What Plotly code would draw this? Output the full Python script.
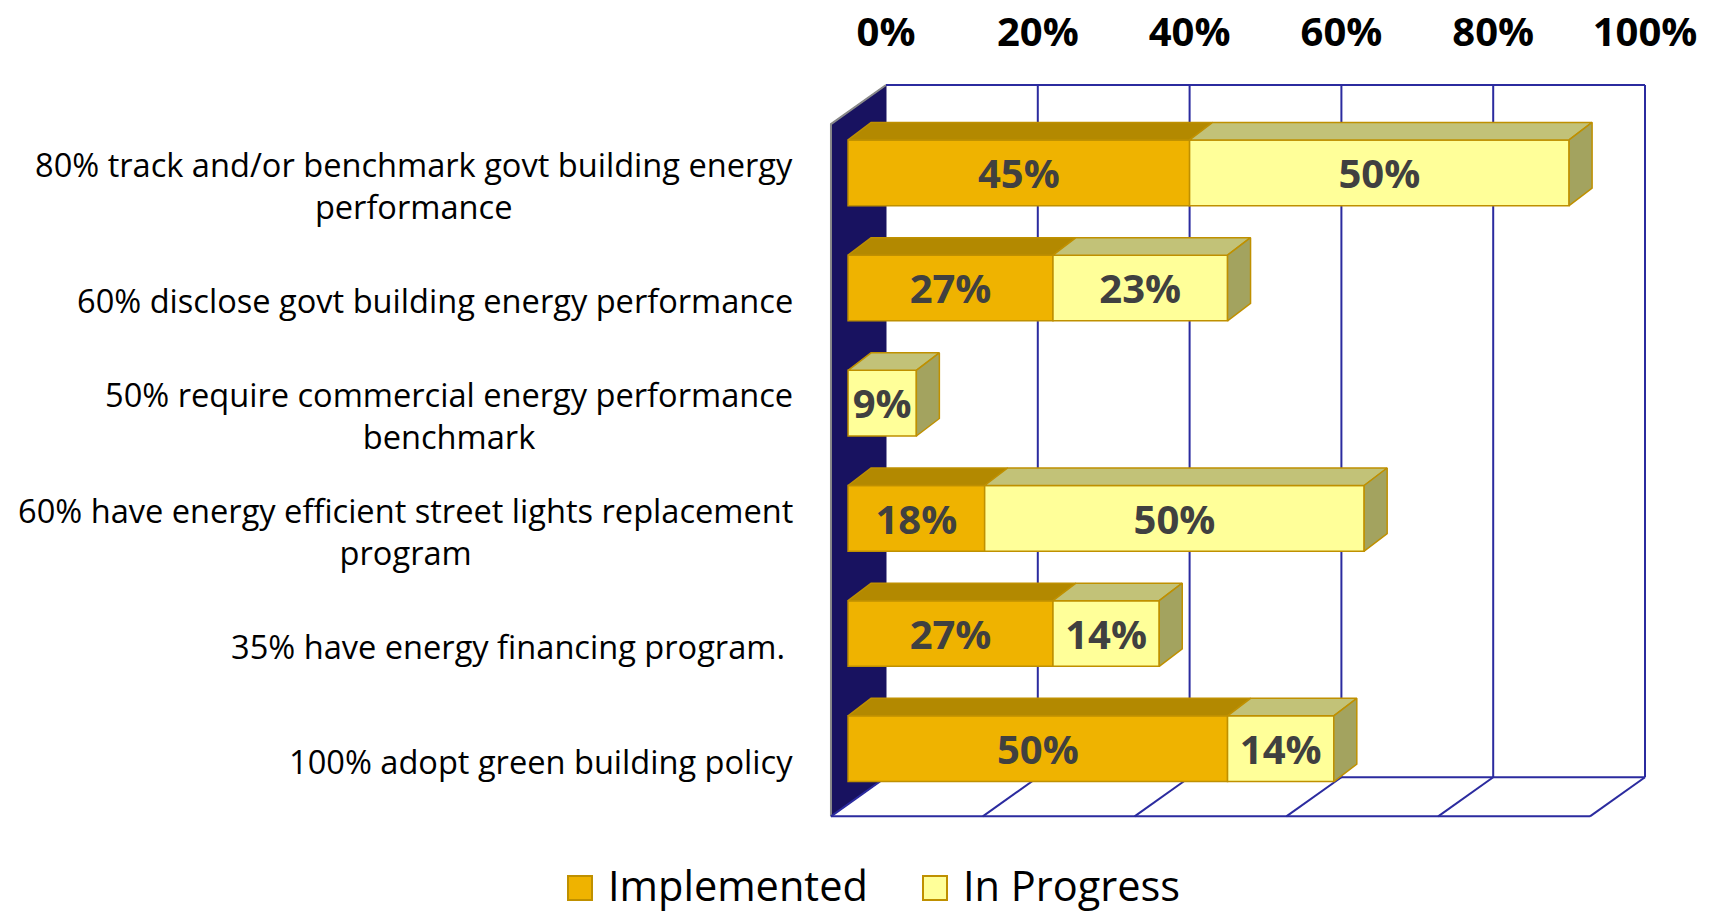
import plotly.graph_objects as go

# ---------------- data ----------------
categories = [
    "80% track and/or benchmark govt building energy<br>performance",
    "60% disclose govt building energy performance",
    "50% require commercial energy performance<br>benchmark",
    "60% have energy efficient street lights replacement<br>program",
    "35% have energy financing program.\u00a0",
    "100% adopt green building policy",
]
implemented = [45, 27, 0, 18, 27, 50]
in_progress = [50, 23, 9, 50, 14, 14]
series_names = ["Implemented", "In Progress"]
tick_vals = [0, 20, 40, 60, 80, 100]
tick_labels = ["0%", "20%", "40%", "60%", "80%", "100%"]

# ---------------- style ----------------
FRONT = ["#EFB300", "#FFFF99"]
TOP = ["#B38900", "#C2C278"]
SIDE = ["#9A7600", "#A3A35F"]
EDGE = "#BF9000"
GRID = "#2B2B9F"
WALL = "#181260"
FONT = "Open Sans"

WIN_W, WIN_H = 1715, 913
OFF = 0                      # page body margin removed in post_script
W, H = WIN_W - OFF, WIN_H - OFF
PLOT_TOP = 80                # window pixel of plot area top
MT = PLOT_TOP - OFF
PX_PER_X = 7.59              # pixels per percent
X0_PIX = 886                 # window pixel of 0% on back wall
ROW_PIX = 115.18             # pixels per category
ROW0_PIX = 172.8             # window pixel of first category centre

xr = [(OFF - X0_PIX) / PX_PER_X, (WIN_W - X0_PIX) / PX_PER_X]
yr = [(WIN_H - ROW0_PIX) / ROW_PIX, (PLOT_TOP - ROW0_PIX) / ROW_PIX]

# 3D geometry (axis units)
BAR_DX = -5.0
BAR_HALF = 0.285
DEP_X, DEP_Y = 3.03, -0.152
WALL_DX, WALL_DY = -7.25, 0.339
WALL_TOP = -0.762
FLOOR_BACK = 5.248

fig = go.Figure()

shapes = []
shapes.append(dict(
    type="path", xref="x", yref="y", layer="below",
    path=f"M0,{WALL_TOP} L{WALL_DX},{WALL_TOP+WALL_DY} L{WALL_DX},{FLOOR_BACK+WALL_DY} L0,{FLOOR_BACK} Z",
    fillcolor=WALL, line=dict(color=WALL, width=1)))
shapes.append(dict(
    type="path", xref="x", yref="y", layer="below",
    path=f"M0,{WALL_TOP} L{WALL_DX},{WALL_TOP+WALL_DY} L{WALL_DX},{FLOOR_BACK+WALL_DY}",
    line=dict(color="#8a8a8a", width=2)))
shapes.append(dict(type="line", xref="x", yref="y", layer="below",
                   x0=tick_vals[0], x1=tick_vals[-1], y0=WALL_TOP, y1=WALL_TOP,
                   line=dict(color=GRID, width=2)))
shapes.append(dict(type="line", xref="x", yref="y", layer="below",
                   x0=tick_vals[0], x1=tick_vals[-1], y0=FLOOR_BACK, y1=FLOOR_BACK,
                   line=dict(color=GRID, width=2)))
shapes.append(dict(type="line", xref="x", yref="y", layer="below",
                   x0=tick_vals[0] + WALL_DX, x1=tick_vals[-1] + WALL_DX,
                   y0=FLOOR_BACK + WALL_DY, y1=FLOOR_BACK + WALL_DY,
                   line=dict(color=GRID, width=2)))
for tv in tick_vals:
    if tv != 0:
        shapes.append(dict(type="line", xref="x", yref="y", layer="below",
                           x0=tv, x1=tv, y0=WALL_TOP, y1=FLOOR_BACK,
                           line=dict(color=GRID, width=2)))
    shapes.append(dict(type="line", xref="x", yref="y", layer="below",
                       x0=tv, x1=tv + WALL_DX, y0=FLOOR_BACK, y1=FLOOR_BACK + WALL_DY,
                       line=dict(color=GRID, width=2)))

series = [implemented, in_progress]
top_x = [[], []]
top_y = [[], []]
side_x = [[], []]
side_y = [[], []]
lab_x, lab_y, lab_t = [], [], []
LAB_DY = 0.045

for s, vals in enumerate(series):
    ys, xs, bases = [], [], []
    for i, v in enumerate(vals):
        if not v:
            continue
        start = sum(series[k][i] for k in range(s))
        b0 = start + BAR_DX
        b1 = start + v + BAR_DX
        ys.append(i)
        xs.append(v)
        bases.append(b0)
        yt = i - BAR_HALF
        yb = i + BAR_HALF
        top_x[s] += [b0, b1, b1 + DEP_X, b0 + DEP_X, b0, None]
        top_y[s] += [yt, yt, yt + DEP_Y, yt + DEP_Y, yt, None]
        total = sum(series[k][i] for k in range(len(series)))
        if start + v == total:
            side_x[s] += [b1, b1 + DEP_X, b1 + DEP_X, b1, b1, None]
            side_y[s] += [yt, yt + DEP_Y, yb + DEP_Y, yb, yt, None]
        lab_x.append(b0 + v / 2)
        lab_y.append(i + LAB_DY)
        lab_t.append(f"{v}%")
    fig.add_trace(go.Bar(
        y=ys, x=xs, base=bases, orientation="h", width=2 * BAR_HALF,
        marker=dict(color=FRONT[s], line=dict(color=EDGE, width=1.5)),
        name=series_names[s], showlegend=False, hoverinfo="skip"))

for s in range(len(series)):
    if top_x[s]:
        fig.add_trace(go.Scatter(x=top_x[s], y=top_y[s], mode="lines", fill="toself",
                                 fillcolor=TOP[s], line=dict(color=EDGE, width=1.5),
                                 showlegend=False, hoverinfo="skip"))
    if side_x[s]:
        fig.add_trace(go.Scatter(x=side_x[s], y=side_y[s], mode="lines", fill="toself",
                                 fillcolor=SIDE[s], line=dict(color=EDGE, width=1.5),
                                 showlegend=False, hoverinfo="skip"))

fig.add_trace(go.Scatter(x=lab_x, y=lab_y, text=lab_t, mode="text",
                         textposition="middle center",
                         textfont=dict(family=FONT, size=40, color="#404040", weight="bold"),
                         showlegend=False, hoverinfo="skip"))

annotations = []
LABEL_X = (795 - X0_PIX) / PX_PER_X
for i, c in enumerate(categories):
    annotations.append(dict(x=LABEL_X, y=i + 0.11, xref="x", yref="y", text=c,
                            showarrow=False, xanchor="right", yanchor="middle",
                            align="center", font=dict(family=FONT, size=32.6, color="#000000")))

plot_h = H - MT
def py(p):
    return (WIN_H - p) / plot_h
def px(p):
    return (p - OFF) / W
leg = [(580, 607), (935, 962)]
for s, (sq_c, tx) in enumerate(leg):
    shapes.append(dict(type="rect", xref="paper", yref="paper",
                       x0=px(sq_c - 12), x1=px(sq_c + 12),
                       y0=py(900), y1=py(876),
                       fillcolor=FRONT[s], line=dict(color=EDGE, width=2)))
    annotations.append(dict(x=px(tx), y=py(885), xref="paper", yref="paper",
                            text=series_names[s], showarrow=False,
                            xanchor="left", yanchor="middle", borderpad=0,
                            font=dict(family=FONT, size=41.5, color="#000000")))

fig.update_layout(
    width=W, height=H,
    margin=dict(l=0, r=0, t=MT, b=0, pad=0, autoexpand=False),
    paper_bgcolor="white", plot_bgcolor="white",
    barmode="overlay",
    shapes=shapes, annotations=annotations,
    xaxis=dict(range=xr, side="top", tickvals=tick_vals, ticktext=tick_labels,
               showgrid=False, zeroline=False, showline=False, automargin=False,
               ticks="outside", ticklen=17, tickcolor="rgba(0,0,0,0)",
               tickfont=dict(family=FONT, size=40, color="#000000", weight="bold"),
               fixedrange=True),
    yaxis=dict(range=yr, visible=False, showgrid=False, zeroline=False,
               automargin=False, fixedrange=True),
    showlegend=False,
)

fig.write_html("out.html", config={"displayModeBar": False},
               post_script="document.body.style.margin='0px';document.body.style.overflow='hidden';")
